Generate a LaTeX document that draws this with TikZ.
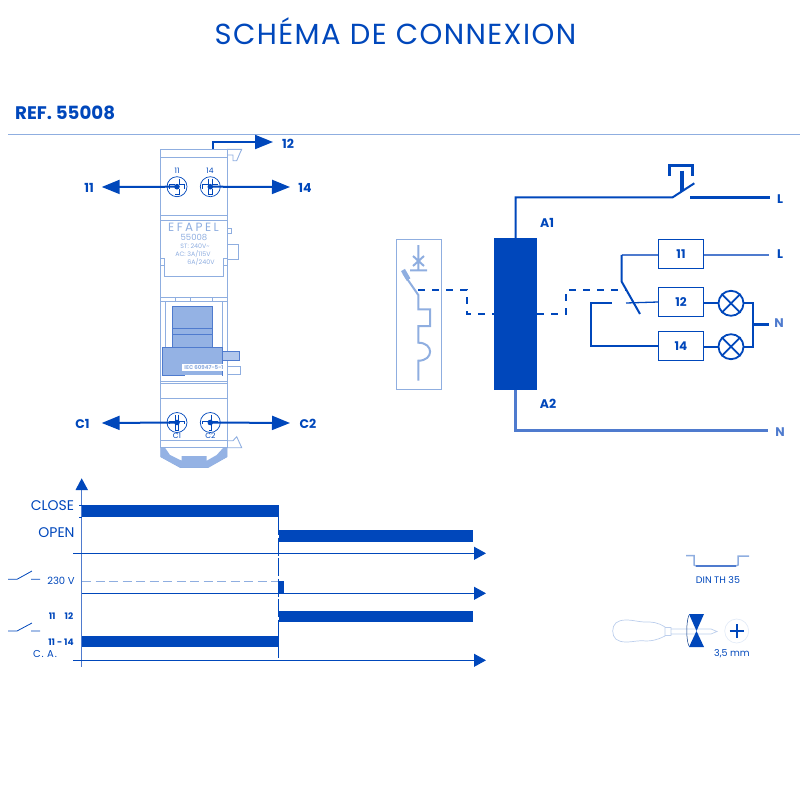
\documentclass[tikz,border=0pt]{standalone}
\usepackage{fontspec}
\setmainfont{Poppins}
\usetikzlibrary{arrows.meta}
\definecolor{mb}{HTML}{0047BB}
\definecolor{lb}{HTML}{8FAEE0}
\definecolor{mid}{HTML}{4F7BCE}
\definecolor{fillb}{HTML}{94B2E4}
\tikzset{
  x=1pt,y=-1pt,
  wire/.style={draw=mb,line width=1.3pt},
  thick wire/.style={draw=mb,line width=3pt},
  outl/.style={draw=lb,line width=.9pt},
  bigarrow/.style={draw=mb,line width=2pt,-{Triangle[length=18pt,width=14pt]}},
  axisarrow/.style={draw=mb,line width=1pt,-{Triangle[length=12pt,width=13pt]}},
  bar/.style={fill=mb,draw=none},
  lab/.style={text=mb,inner sep=0pt,font=\fontsize{12.5}{14}\selectfont\bfseries},
  small/.style={text=mb,inner sep=0pt,font=\fontsize{7.5}{8}\selectfont},
  tiny/.style={text=lb,inner sep=0pt,font=\fontsize{6.3}{7}\selectfont},
  chart/.style={text=mb,inner sep=0pt,font=\fontsize{10}{11}\selectfont},
  relay/.style={draw=mb,fill=white,line width=1.1pt,minimum width=45pt,minimum height=29pt,inner sep=0pt,text=mb,font=\fontsize{12}{14}\selectfont\bfseries},
  lamp/.style={circle,draw=mb,line width=1.8pt,minimum size=25pt,inner sep=0pt},
  dashw/.style={draw=mb,line width=2pt,dash pattern=on 7pt off 7pt},
  screwn/.style={circle,draw=mb,line width=.7pt,minimum size=20pt,inner sep=0pt},
}
% name, position, cross width
\newcommand{\myscrew}[3]{%
  \node[screwn] (#1) at #2 {};
  \draw[mb,line width=#3pt] (#1.center) ++(-8,0) -- ++(16,0) (#1.center) ++(0,-8) -- ++(0,16);
  \draw[white,line width=#3pt-1.4pt] (#1.center) ++(-7.4,0) -- ++(14.8,0) (#1.center) ++(0,-7.4) -- ++(0,14.8);
}
\newcommand{\myhub}[1]{\fill[mb] (#1.center) circle (2.8pt);}
\newcommand{\myswitch}[2]{%
  \draw[mb,line width=.8pt] (8,#1) -- (17,#1) -- (32,#2) (31,#1) -- (40,#1);
}
\begin{document}
\begin{tikzpicture}
\useasboundingbox (0,0) rectangle (800,800);
% header
\node[text=mb,inner sep=0pt,font=\fontsize{29}{32}\selectfont] (title) at (395.5,31.5) {\addfontfeature{LetterSpace=4.9}SCHÉMA DE CONNEXION};
\node[text=mb,inner sep=0pt,anchor=west,font=\fontsize{18.2}{20}\selectfont\bfseries] (ref) at (15,113) {REF. 55008};
\draw[lb,line width=.9pt] (8,134.5) -- (800,134.5);
% module body
\draw[outl] (160.7,149.3) rectangle (227,447.7);
\draw[outl] (160.7,157.3) -- (227,157.3) (160.7,215) -- (227,215) (160.7,220.7) -- (227,220.7)
  (160.7,297) -- (227,297) (160.7,301) -- (227,301) (160.7,381) -- (227,381) (160.7,383.3) -- (227,383.3)
  (160.7,398.3) -- (227,398.3) (160.7,440.7) -- (227,440.7);
\draw[outl] (227,149.3) -- (241.7,149.3) -- (240,153) -- (236.7,160.7) -- (233,160.7) -- (233,155) -- (227,155);
\draw[outl] (227,228.3) rectangle (231,233.3) (227,244.3) -- (238.3,244.3) -- (238.3,259) -- (227,259);
\draw[outl] (160.7,258) rectangle (164.3,265) (223.3,258) rectangle (227,265);
\draw[outl] (164.3,258) -- (164.3,276.7) -- (223.3,276.7) -- (223.3,258);
\draw[outl] (227,440.7) -- (233,440.7) -- (236.7,436.7) -- (241.7,447.7) -- (227,447.7);
\draw[outl] (160.7,297) -- (227,297) (175,297) -- (175,301) (190,297) -- (190,301) (212,297) -- (212,301);
% window
\draw[outl] (165,302) -- (165,347) (222,302) -- (222,347);
\fill[fillb] (172.3,306.7) rectangle (212.7,347.7);
\fill[fillb] (162.3,347.7) rectangle (222.7,375);
\fill[fillb!120!mb] (222.7,351) rectangle (239,360.7);
\draw[mid,line width=.7pt] (172.3,328) -- (212.7,328) (172.3,334) -- (212.7,334) (172.3,306.7) rectangle (212.7,347.7)
  (162.3,347.7) rectangle (222.7,375) (222.7,351) rectangle (239,360.7);
\fill[white] (181.7,364) rectangle (226,371);
\fill[white] (185,375.4) rectangle (222,377);
\draw[outl] (227,366) rectangle (240,374);
\node[text=lb,inner sep=0pt,font=\fontsize{5.5}{6}\selectfont\bfseries] (iec) at (204,367.5) {IEC 60947-5-1};
% foot
\draw[outl] (160.7,447.7) -- (160.7,456.7) -- (180,467.3) -- (208.3,467.3) -- (227,456.7) -- (227,447.7);
\fill[fillb] (165,447.7) -- (170,455) -- (181.7,460.7) -- (181.7,456) -- (206.7,456) -- (206.7,460.7) -- (216.7,455) -- (223.3,447.7)
  -- (227,447.7) -- (227,456.7) -- (208.3,467.3) -- (180,467.3) -- (160.7,456.7) -- (160.7,447.7) -- cycle;
% printed text
\node[text=lb,inner sep=0pt,font=\fontsize{12}{14}\selectfont] (efapel) at (193.5,227) {\addfontfeature{LetterSpace=20}EFAPEL};
\node[tiny,font=\fontsize{8.5}{9}\selectfont] (t1) at (194,237) {55008};
\node[tiny] (t2) at (195,246) {ST: 240V\textasciitilde};
\node[tiny] (t3) at (193,254) {AC: 3A/115V};
\node[tiny] (t4) at (201,262) {6A/240V};
% screws
\myscrew{s11}{(177,186.7)}{5}
\myscrew{s14}{(210.3,186.7)}{5}
\myscrew{sc1}{(177,422.5)}{3.4}
\myscrew{sc2}{(210.3,422.5)}{3.4}
\node[small] (n11) at (177,171) {11};
\node[small] (n14) at (210,171) {14};
\node[small] (nc1) at (177,436) {C1};
\node[small] (nc2) at (210.5,436) {C2};
% arrows
\coordinate (t11) at (101.7,187);
\coordinate (t14) at (290,187);
\coordinate (tc1) at (101.7,423);
\coordinate (tc2) at (290,423);
\coordinate (t12) at (273,142);
\coordinate (o12) at (212.7,149);
\draw[bigarrow] (s11.center) -- (t11);
\draw[bigarrow] (s14.center) -- (t14);
\draw[bigarrow] (sc1.center) -- (tc1);
\draw[bigarrow] (sc2.center) -- (tc2);
\draw[bigarrow] (o12) |- (t12);
\myhub{s11}\myhub{s14}\myhub{sc1}\myhub{sc2}
\node[lab] (l11) at (89,187.5) {11};
\node[lab] (l14) at (305,187.5) {14};
\node[lab] (l12) at (288,143.5) {12};
\node[lab] (lc1) at (82.5,424) {C1};
\node[lab] (lc2) at (308,424) {C2};
% symbol box
\draw[outl] (396.3,239.3) rectangle (441.7,389.3);
\draw[lb,line width=2pt] (418.3,245) -- (418.3,270) (410,270.3) -- (427,270.3) (413,256) -- (424,266) (424,256) -- (413,266);
\draw[lb,line width=4.5pt] (403,270) -- (408.5,279.5);
\draw[lb,line width=2pt] (403.3,273.3) -- (418.3,295) -- (418.3,309.3) -- (430,309.3) -- (430,326) -- (418.3,326) -- (418.3,342.7)
  .. controls (434,342.7) and (434,360.7) .. (418.3,360.7) -- (418.3,380.7);
% coil
\node[fill=mb,minimum width=43pt,minimum height=152pt,inner sep=0pt] (coil) at (515.5,314) {};
\coordinate (symout) at (418.3,290);
\coordinate (bend1) at (467.3,290);
\coordinate (coilr) at (537,314);
\coordinate (bend2) at (565.7,290);
\coordinate (blade) at (627,290);
\draw[dashw] (symout) -- (bend1) |- (coil.west);
\draw[dashw] (coilr) -| (bend2) -- (blade);
% supply
\coordinate (swl) at (672.7,197.3);
\coordinate (swt) at (694.3,183.3);
\coordinate (swr) at (690,197.3);
\node[lab] (lL) at (780,199) {L};
\node[lab] (lA1) at (547,223) {A1};
\node[lab] (lA2) at (548,404) {A2};
\draw[draw=mb,line width=2pt] (coil.north) -- (515.5,197.3) -- (swl) -- (swt);
\draw[draw=mb,line width=3.4pt] (swr) -- (770,197.3);
\draw[draw=mb,line width=3.4pt] (682,170.7) -- (682,190.7);
\draw[draw=mb,line width=3.4pt] (669.3,176) -- (669.3,165.3) -- (692.7,165.3) -- (692.7,176);
\node[lab,text=mid] (lN2) at (780,432) {N};
\draw[draw=mid,line width=2.4pt] (coil.south) -- (515.5,430.3) -- (767.7,430.3);
% relays
\node[relay] (r11) at (681,254) {11};
\node[relay] (r12) at (681,302) {12};
\node[relay] (r14) at (681,346) {14};
\node[lamp] (la1) at (731,303.3) {};
\node[lamp] (la2) at (731,346.7) {};
\foreach \q in {la1,la2}{\draw[mb,line width=1.8pt] (\q.45) -- (\q.225) (\q.135) -- (\q.315);}
\node[lab] (lL2) at (780,254.5) {L};
\node[lab,text=mid] (lN1) at (779,323.5) {N};
\coordinate (sw11) at (621.7,254.8);
\coordinate (sw11b) at (621.7,281.7);
\coordinate (bladeend) at (640,314);
\coordinate (lt12) at (626,303);
\coordinate (lg12) at (611.7,303);
\coordinate (lc12) at (590.7,303);
\coordinate (jn) at (752.7,324);
\coordinate (ln1) at (769,324);
\coordinate (ll2) at (769,254.8);
\draw[draw=mid,line width=1.5pt] (r11.west |- sw11) -- (sw11);
\draw[draw=mb,line width=2pt] (sw11) -- (sw11b) -- (bladeend);
\draw[draw=mid,line width=1.5pt] (r11.east |- ll2) -- (ll2);
\draw[wire] (r12.west) -- (lt12);
\draw[draw=mb,line width=1.8pt] (lg12) -- (lc12) |- (r14.west);
\draw[wire,line width=1.8pt] (r12.east |- la1) -- (la1.west);
\draw[wire,line width=1.8pt] (r14.east |- la2) -- (la2.west);
\draw[draw=mb,line width=1.8pt] (la1.east) -| (jn) |- (la2.east);
\draw[thick wire] (jn) -- (ln1);
% timing
\fill[bar] (81.7,505) rectangle (279,517);
\fill[bar] (278.5,530) rectangle (473,542.3);
\fill[bar] (278.5,581) rectangle (284,593.3);
\fill[bar] (278.5,611) rectangle (473,622);
\fill[bar] (81.7,636) rectangle (279,647);
\coordinate (ax0) at (81.7,666.7);
\coordinate (ax1) at (81.7,478.3);
\draw[draw=mid,line width=1pt] (ax0) -- (81.7,488);
\draw[draw=none,fill=mb] (ax1) -- (88,490) -- (75.5,490) -- cycle;
\draw[mb,line width=.8pt] (79,505) -- (81.7,505) (79,517) -- (81.7,517);
\draw[axisarrow] (73,553.3) -- (486,553.3);
\draw[axisarrow] (81.7,593.3) -- (486,593.3);
\draw[axisarrow] (73,660.3) -- (486,660.3);
\draw[lb,line width=.8pt,dash pattern=on 9pt off 4.5pt] (82,581.5) -- (278,581.5);
\draw[mb,line width=.9pt,dash pattern=on 18pt off 2.5pt] (278.5,517) -- (278.5,660);
\myswitch{579.3}{571}
\myswitch{631}{623}
\node[chart,font=\fontsize{14}{15}\selectfont] (tclose) at (52.5,506) {CLOSE};
\node[chart,font=\fontsize{14}{15}\selectfont] (topen) at (56.5,533) {OPEN};
\node[chart] (t230) at (61,581) {230 V};
\node[chart,font=\fontsize{9}{11}\selectfont\bfseries] (t1112) at (61,616) {11\hspace{9pt}12};
\node[chart,font=\fontsize{9}{11}\selectfont\bfseries] (t1114) at (61,642) {11 - 14};
\node[chart] (tca) at (45,654) {\addfontfeature{LetterSpace=8}C. A.};
% din rail
\draw[draw=lb,line width=1.5pt] (686,555.7) -- (694,555.7) -- (694,565) -- (696,566);
\draw[draw=lb,line width=1.5pt] (736,566) -- (738,565) -- (738,556) -- (749,556);
\draw[draw=mid,line width=1.5pt] (696,566) -- (736,566);
\node[chart,font=\fontsize{9.5}{11}\selectfont] (din) at (718,580) {DIN TH 35};
% screwdriver
\draw[lb!60,line width=.7pt] (665,627) .. controls (657,622) and (652,622) .. (646,622) .. controls (638,622) and (634,620) .. (626,620)
  .. controls (617,620) and (612.7,624) .. (612.7,631) .. controls (612.7,638) and (617,642) .. (626,642)
  .. controls (634,642) and (638,640) .. (646,641) .. controls (652,641) and (657,640) .. (665,636) -- cycle;
\draw[lb!60,line width=.7pt] (665,627.5) -- (671,627.5) -- (671,635.5) -- (665,635.5) (671,629) -- (711,629) -- (717,631.5) -- (711,634) -- (671,634);
\fill[mb] (689,614) -- (704,614) -- (696.5,631) -- (704,647) -- (689,647) -- (696.5,631) -- cycle;
\draw[mb!70!black,line width=.5pt] (689,615) .. controls (686,622) and (686,640) .. (689,646);
\node[circle,draw=lb!25,line width=.7pt,minimum size=24pt,inner sep=0pt] (plus) at (736.7,631) {};
\draw[mb,line width=2.4pt] (729.7,631) -- (743.7,631) (736.7,624) -- (736.7,638);
\node[chart,font=\fontsize{9.5}{11}\selectfont] (mm) at (732,654) {3,5 mm};
\end{tikzpicture}
\end{document}
